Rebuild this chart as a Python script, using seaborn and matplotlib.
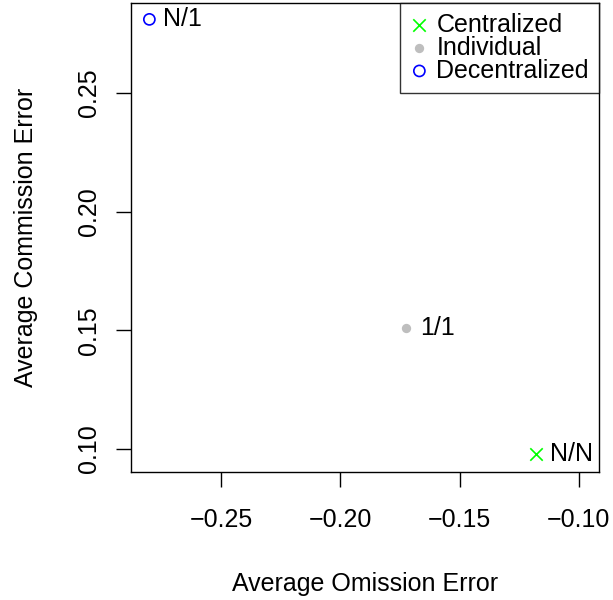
import matplotlib
matplotlib.use("Agg")
import pandas as pd
import matplotlib.pyplot as plt
import seaborn as sns

# values
groups = ["Centralized", "Individual", "Decentralized"]
labels = ["N/N", "1/1", "N/1"]
omission = [-0.118, -0.1725, -0.280]
commission = [0.098, 0.151, 0.281]

df = pd.DataFrame({"group": groups, "label": labels,
                   "omission": omission, "commission": commission})

sns.set_style("ticks")
plt.rcParams["font.family"] = ["Liberation Sans", "DejaVu Sans"]
plt.rcParams["text.color"] = "black"
plt.rcParams["axes.labelcolor"] = "black"
plt.rcParams["xtick.color"] = "black"
plt.rcParams["ytick.color"] = "black"
fs = 18

fig = plt.figure(figsize=(6.13, 6.0), dpi=100)
ax = fig.add_axes([131 / 613, 1 - 472 / 600, (599 - 131) / 613, (472 - 3) / 600])

styles = {
    "Centralized": dict(marker="x", color="#00FF00", s=80, linewidth=1.2),
    "Individual": dict(marker="o", color="#BEBEBE", s=45, linewidth=0),
    "Decentralized": dict(marker="o", facecolor="none", edgecolor="#0000FF", s=64, linewidth=1.2),
}
for g in groups:
    sub = df[df["group"] == g]
    sns.scatterplot(data=sub, x="omission", y="commission", ax=ax, label=g,
                    legend=False, **styles[g])

for _, r in df.iterrows():
    ax.annotate(r["label"], (r["omission"], r["commission"]), xytext=(10, 0),
                textcoords="offset points", ha="left", va="center", fontsize=fs,
                color="black")

ax.set_xlim(-0.2877, -0.0916)
ax.set_ylim(0.0903, 0.2879)
ax.set_xticks([-0.25, -0.20, -0.15, -0.10])
ax.set_xticklabels(["\u22120.25", "\u22120.20", "\u22120.15", "\u22120.10"])
ax.set_yticks([0.10, 0.15, 0.20, 0.25])
ax.set_yticklabels(["0.10", "0.15", "0.20", "0.25"], rotation=90, va="center")
ax.tick_params(axis="both", length=10.8, width=1, labelsize=fs, color="black",
               labelcolor="black")
ax.tick_params(axis="x", pad=15)
ax.tick_params(axis="y", pad=11)
for sp in ax.spines.values():
    sp.set_visible(True)
    sp.set_color("black")
    sp.set_linewidth(1)

ax.set_xlabel("Average Omission Error", fontsize=fs, labelpad=29, color="black")
ax.set_ylabel("Average Commission Error", fontsize=fs, labelpad=28, color="black")

h, l = ax.get_legend_handles_labels()
leg = ax.legend(h, l, loc="upper right", bbox_to_anchor=(1.0, 1.0), fontsize=fs,
                frameon=True, fancybox=False, borderaxespad=0, borderpad=0.4,
                labelspacing=-0.05, handletextpad=0.31, handlelength=0.75)
leg.get_frame().set_edgecolor("black")
leg.get_frame().set_linewidth(1)
for t in leg.get_texts():
    t.set_color("black")

fig.savefig("out.png", dpi=100)
